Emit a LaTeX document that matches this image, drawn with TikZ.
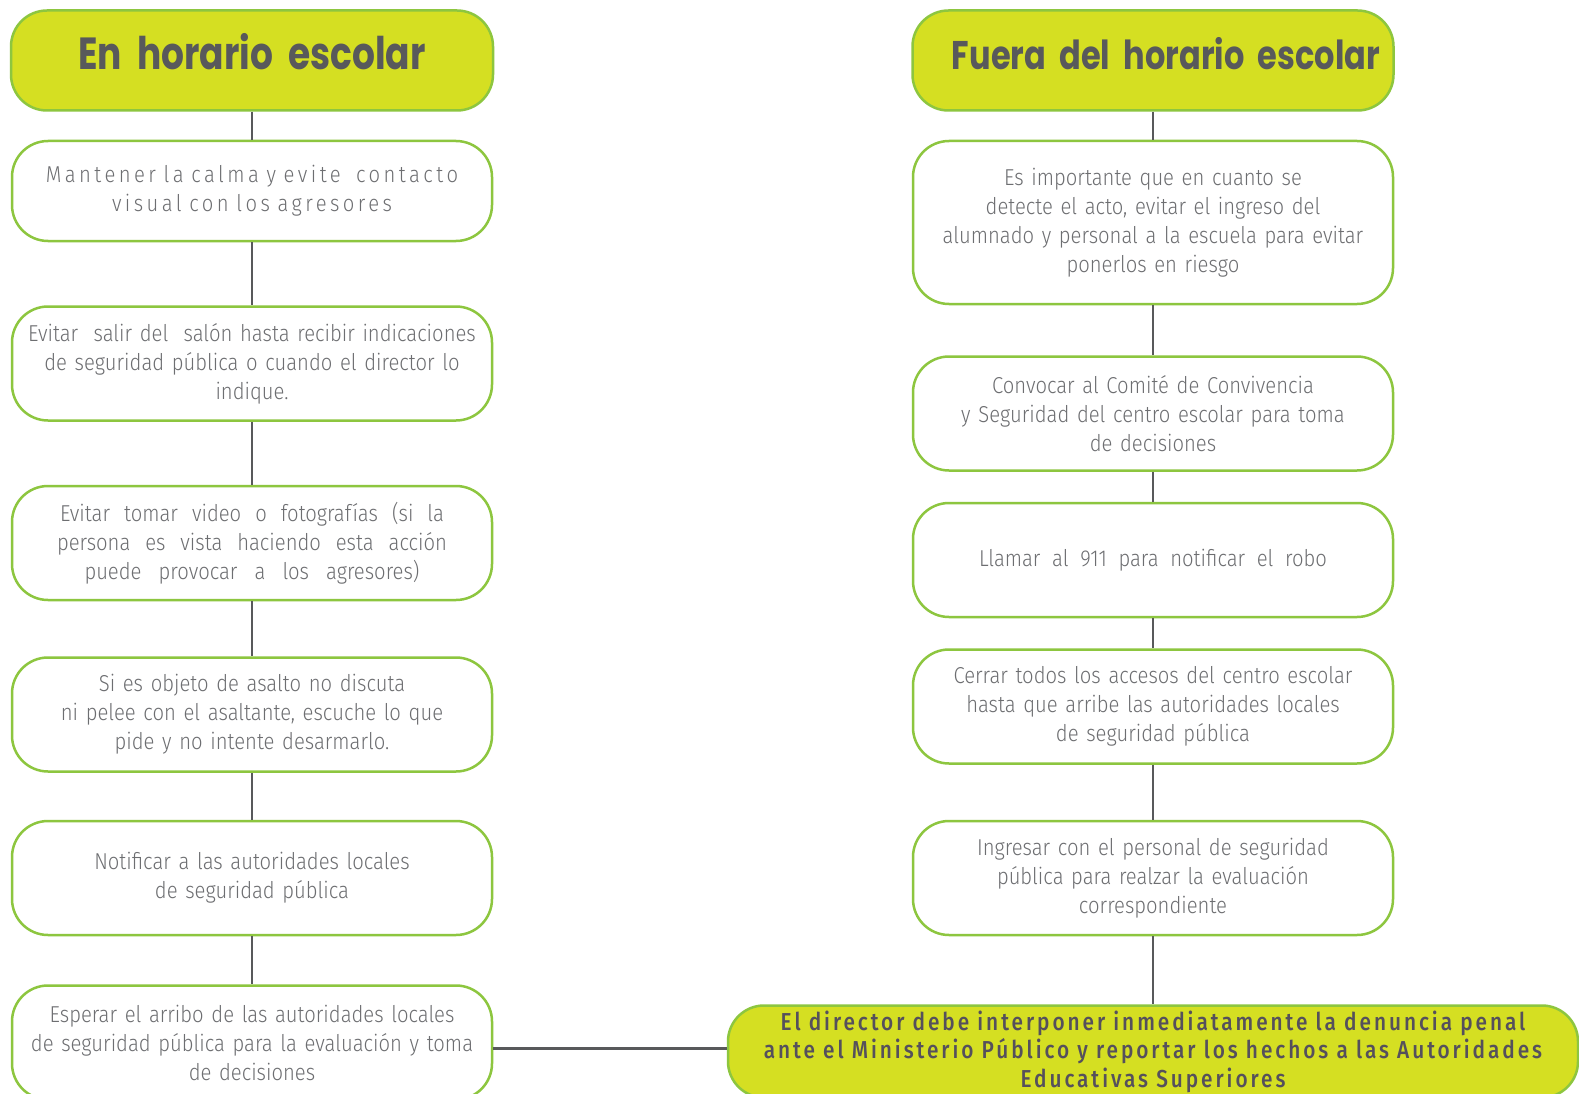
\documentclass[tikz,border=0pt]{standalone}
\usepackage{fontspec}
\usepackage{xcolor}
\usetikzlibrary{positioning}

\newfontfamily\cuerpo{Fira Sans Light}[FakeStretch=0.88]
\newfontfamily\cuerpoancho{Fira Sans Light}[FakeStretch=0.88,LetterSpace=15]
\newfontfamily\titular{Poppins Bold}[FakeStretch=0.8]
\newfontfamily\cierre{Fira Sans Medium}[FakeStretch=0.85,LetterSpace=12]

\definecolor{lima}{HTML}{D5DF22}
\definecolor{verde}{HTML}{8DC63F}
\definecolor{gristexto}{HTML}{58595B}
\definecolor{grisclaro}{HTML}{6D6E71}
\definecolor{morado}{HTML}{55505C}

\begin{document}
\begin{tikzpicture}[x=1pt, y=-1pt,
		caja/.style={rectangle, rounded corners=36pt, draw=verde, line width=2.5pt, minimum width=480pt, minimum height=114pt, text width=460pt, align=center, inner sep=0pt},
		paso/.style={caja, fill=white, text=grisclaro, font={\cuerpo\fontsize{23}{29}\selectfont}},
		titulo/.style={caja, fill=lima, minimum height=100pt, text=gristexto, font={\titular\fontsize{40}{48}\selectfont}, text height=30pt, text depth=11pt},
		final/.style={caja, fill=lima, text=morado, font={\cierre\fontsize{24.5}{28.5}\selectfont}},
		union/.style={draw=gristexto, line width=2.8pt}]
				\path[use as bounding box, fill=white] (0,0) rectangle (1579,1094);
				
				% En horario escolar
				\node[titulo, minimum width=482pt, font={\titular\fontsize{45}{50}\selectfont}] (enh) at (252,60.5) {En horario escolar};
				\node[paso, minimum height=100pt, below=28pt of enh] (m1) {{\cuerpoancho Mantener la calma y evite\ \ contacto\\visual con los agresores}};
				\node[paso, below=63pt of m1] (m2) {Evitar\ \ salir del\ \ salón hasta recibir indicaciones\\de seguridad pública o cuando el director lo\\indique.};
				\node[paso, below=63pt of m2] (m3) {\makebox[384pt]{Evitar\hfill tomar\hfill video\hfill o\hfill fotografías\hfill (si\hfill la}\\\makebox[390pt]{persona\hfill es\hfill vista\hfill haciendo\hfill esta\hfill acción}\\\makebox[335pt]{puede\hfill provocar\hfill a\hfill los\hfill agresores)}};
				\node[paso, below=55pt of m3] (m4) {Si es objeto de asalto no discuta\\ni pelee con el asaltante, escuche lo que\\pide y no intente desarmarlo.};
				\node[paso, below=47pt of m4] (m5) {Notificar a las autoridades locales\\de seguridad pública};
				\node[paso, below=48pt of m5] (m6) {Esperar el arribo de las autoridades locales\\de seguridad pública para la evaluación y toma\\de decisiones};
				
				% Fuera del horario escolar
				\node[titulo, minimum width=481pt] (fue) at (1153,60.5) {\hspace*{26pt}Fuera del horario escolar};
				\node[paso, minimum height=163pt, below=28pt of fue] (f1) {Es importante que en cuanto se\\detecte el acto, evitar el ingreso del\\alumnado y personal a la escuela para evitar\\ponerlos en riesgo};
				\node[paso, below=50pt of f1] (f2) {Convocar al Comité de Convivencia\\y Seguridad del centro escolar para toma\\de decisiones};
				\node[paso, below=30pt of f2] (f3) {\makebox[348pt]{Llamar\hfill al\hfill 911\hfill para\hfill notificar\hfill el\hfill robo}};
				\node[paso, below=30pt of f3] (f4) {Cerrar todos los accesos del centro escolar\\hasta que arribe las autoridades locales\\de seguridad pública};
				\node[paso, below=55pt of f4] (f5) {Ingresar con el personal de seguridad\\pública para realzar la evaluación\\correspondiente};
				\node[final, minimum width=850pt, minimum height=92pt, text width=830pt, below=68pt of f5] (den) {El director debe interponer inmediatamente la denuncia penal\\ante el Ministerio Público y reportar los hechos a las Autoridades\\Educativas Superiores};
				\coordinate (cruce) at ([yshift=-44pt]den.north);
				
				\draw[union] (enh) -- (m1);
				\draw[union] (m1) -- (m2);
				\draw[union] (m2) -- (m3);
				\draw[union] (m3) -- (m4);
				\draw[union] (m4) -- (m5);
				\draw[union] (m5) -- (m6);
				\draw[union] (fue) -- (f1);
				\draw[union] (f1) -- (f2);
				\draw[union] (f2) -- (f3);
				\draw[union] (f3) -- (f4);
				\draw[union] (f4) -- (f5);
				\draw[union] (f5) -- (den);
				\draw[union] (m6.east |- cruce) -- (den.west |- cruce);
			\end{tikzpicture}
\end{document}
